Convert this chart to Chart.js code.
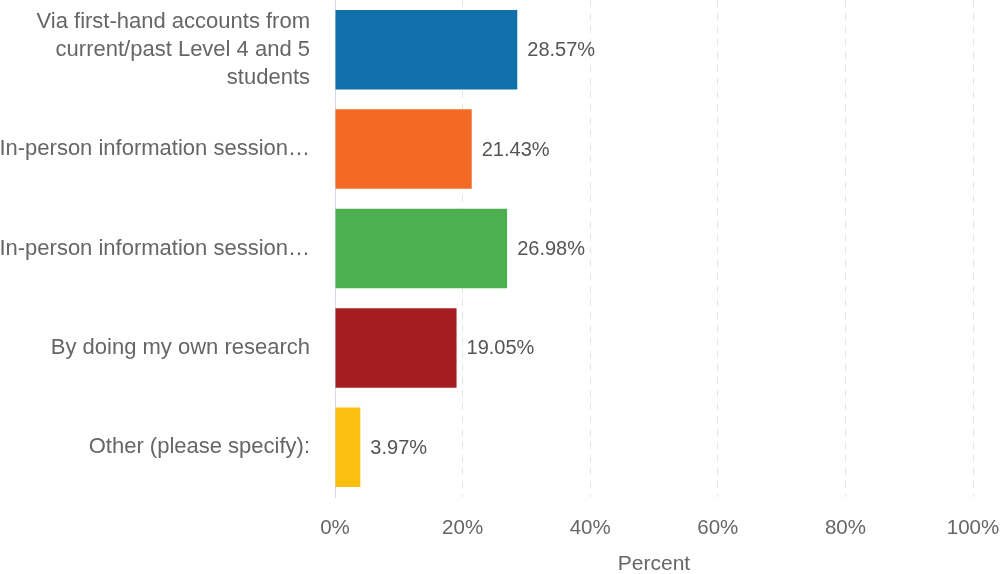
<!DOCTYPE html>
<html>
<head>
<meta charset="utf-8">
<script src="https://cdn.jsdelivr.net/npm/chart.js@4"></script>
<style>
  html, body { margin: 0; padding: 0; background: #fff; }
  #wrap { width: 1001px; height: 574px; position: relative; }
</style>
</head>
<body>
<div id="wrap"><canvas id="chart"></canvas></div>
<script>
// answer options and their share of responses
const categories = [
    ['Via first-hand accounts from', 'current/past Level 4 and 5', 'students'],
    'In-person information session\u2026',
    'In-person information session\u2026',
    'By doing my own research',
    'Other (please specify):'
];
const percents = [28.57, 21.43, 26.98, 19.05, 3.97];
const barColors = ['#1170aa', '#f26a24', '#4caf50', '#a41c1f', '#fbbf10'];
const xTicks = [0, 20, 40, 60, 80, 100];

const fontFamily = '"Liberation Sans", Arial, sans-serif';

// value text next to each bar
const valueLabels = {
    id: 'valueLabels',
    afterDatasetsDraw(chart) {
        const ctx = chart.ctx;
        const meta = chart.getDatasetMeta(0);
        ctx.save();
        ctx.font = '20px ' + fontFamily;
        ctx.fillStyle = '#555';
        ctx.textAlign = 'left';
        ctx.textBaseline = 'middle';
        meta.data.forEach((bar, i) => {
            ctx.fillText(percents[i].toFixed(2) + '%', bar.x + 10, bar.y + 1);
        });
        ctx.restore();
    }
};

new Chart(document.getElementById('chart'), {
    type: 'bar',
    data: {
        labels: categories,
        datasets: [{
            data: percents,
            backgroundColor: barColors,
            borderWidth: 0,
            categoryPercentage: 0.8,
            barPercentage: 1.0
        }]
    },
    options: {
        indexAxis: 'y',
        responsive: true,
        maintainAspectRatio: false,
        animation: false,
        layout: { padding: { top: 0, right: 28, bottom: 0, left: 0 } },
        plugins: {
            legend: { display: false },
            tooltip: { enabled: false }
        },
        scales: {
            x: {
                min: 0,
                max: 100,
                afterBuildTicks(axis) {
                    axis.ticks = xTicks.map(v => ({ value: v }));
                },
                grid: {
                    color: '#e2e4e8',
                    lineWidth: 1,
                    drawTicks: false
                },
                border: { display: false, dash: [7, 6] },
                ticks: {
                    padding: 19,
                    color: '#666',
                    font: { family: fontFamily, size: 20.5 },
                    callback: v => v + '%',
                    maxRotation: 0
                },
                title: {
                    display: true,
                    text: 'Percent',
                    color: '#666',
                    font: { family: fontFamily, size: 21 },
                    padding: { top: 9, bottom: -3 }
                },
                afterFit(axis) {
                    axis.height = 77;
                    axis.paddingLeft = 0;
                    axis.paddingRight = 0;
                }
            },
            y: {
                grid: { display: false, drawTicks: false },
                border: { display: true, color: '#d6d9ea', width: 1 },
                ticks: {
                    padding: 25,
                    color: '#666',
                    autoSkip: false,
                    font: { family: fontFamily, size: 22, lineHeight: 1.28 }
                },
                afterFit(axis) {
                    axis.width = 335;
                    axis.paddingTop = 0;
                    axis.paddingBottom = 0;
                }
            }
        }
    },
    plugins: [valueLabels]
});
</script>
</body>
</html>
